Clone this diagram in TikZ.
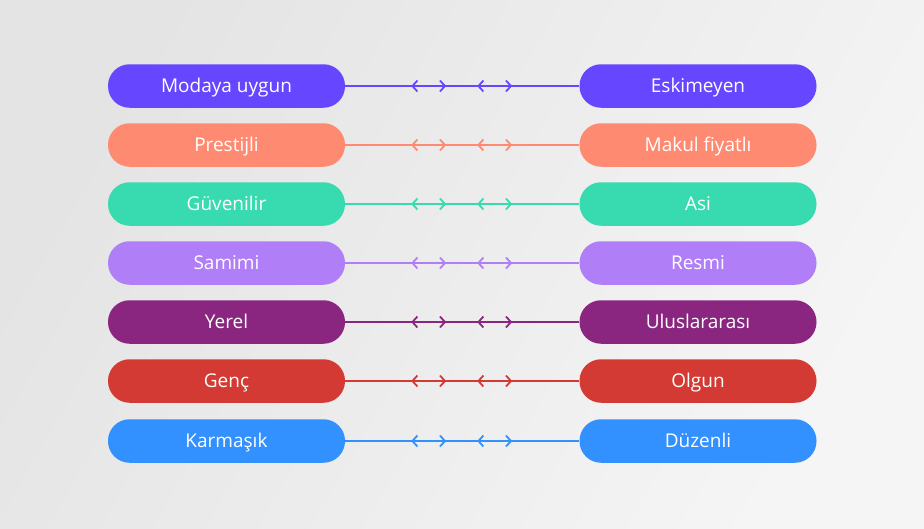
\documentclass[tikz,border=0pt]{standalone}
\usepackage{fontspec}
\setmainfont{Open Sans}
\usetikzlibrary{arrows.meta,decorations.markings}

\definecolor{bgdark}{HTML}{E4E4E4}
\definecolor{bglight}{HTML}{F5F5F5}
\definecolor{violetc}{HTML}{6647FF}
\definecolor{salmonc}{HTML}{FF8A72}
\definecolor{mintc}{HTML}{38DBB0}
\definecolor{lilacc}{HTML}{B07EF7}
\definecolor{plumc}{HTML}{8A2680}
\definecolor{redc}{HTML}{D43A34}
\definecolor{bluec}{HTML}{3390FF}

\tikzset{
  pill/.style={rectangle, rounded corners=21.5pt, minimum width=237pt,
    minimum height=43.5pt, inner sep=0pt, text=white, text height=13.5pt,
    text depth=0pt, font=\fontsize{19}{22}\selectfont},
  chev/.tip={Straight Barb[length=5pt,width=11pt,line width=1.8pt]},
  link/.style={line width=1.7pt, postaction={decorate}, decoration={markings,
    mark=at position 66pt with {\arrowreversed{chev}},
    mark=at position 101pt with {\arrow{chev}},
    mark=at position 132pt with {\arrowreversed{chev}},
    mark=at position 167pt with {\arrow{chev}}}}
}

\begin{document}
\begin{tikzpicture}[x=1pt,y=-1pt]
      % Draw background
      \shade[left color=bgdark, right color=bglight, shading angle=60] (0,0) rectangle (924,528);
      \useasboundingbox (0,0) rectangle (924,528);
      % Draw first row
      \node (l1) at (226.5,86) [pill, fill=violetc] {Modaya uygun};
      \node (r1) at (698,86) [pill, fill=violetc] {Eskimeyen};
      \draw [link, violetc] (l1.east) -- (r1.west);
      % Draw second row
      \node (l2) at (226.5,145) [pill, fill=salmonc] {Prestijli};
      \node (r2) at (698,145) [pill, fill=salmonc] {Makul fiyatlı};
      \draw [link, salmonc] (l2.east) -- (r2.west);
      % Draw third row
      \node (l3) at (226.5,204) [pill, fill=mintc] {Güvenilir};
      \node (r3) at (698,204) [pill, fill=mintc] {Asi};
      \draw [link, mintc] (l3.east) -- (r3.west);
      % Draw fourth row
      \node (l4) at (226.5,263) [pill, fill=lilacc] {Samimi};
      \node (r4) at (698,263) [pill, fill=lilacc] {Resmi};
      \draw [link, lilacc] (l4.east) -- (r4.west);
      % Draw fifth row
      \node (l5) at (226.5,322) [pill, fill=plumc] {Yerel};
      \node (r5) at (698,322) [pill, fill=plumc] {Uluslararası};
      \draw [link, plumc] (l5.east) -- (r5.west);
      % Draw sixth row
      \node (l6) at (226.5,381) [pill, fill=redc] {Genç};
      \node (r6) at (698,381) [pill, fill=redc] {Olgun};
      \draw [link, redc] (l6.east) -- (r6.west);
      % Draw seventh row
      \node (l7) at (226.5,441) [pill, fill=bluec] {Karmaşık};
      \node (r7) at (698,441) [pill, fill=bluec] {Düzenli};
      \draw [link, bluec] (l7.east) -- (r7.west);
    \end{tikzpicture}
\end{document}
